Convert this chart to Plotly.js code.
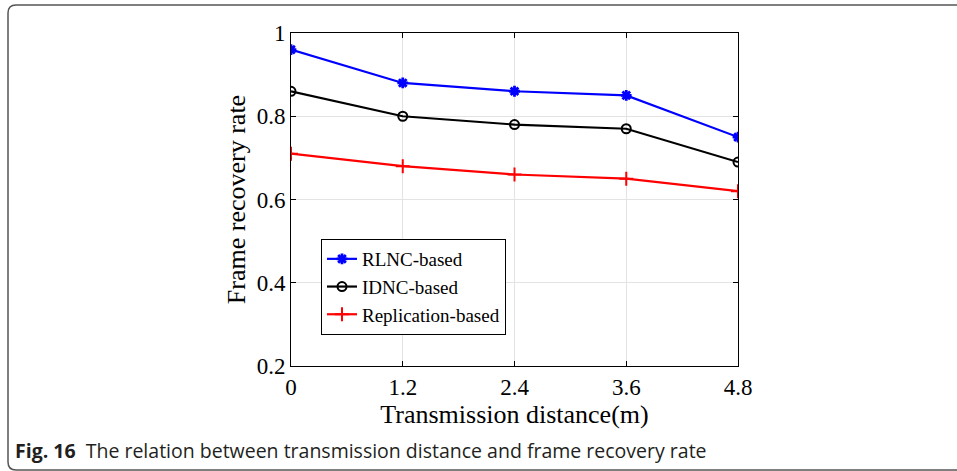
<!DOCTYPE html>
<html><head><meta charset="utf-8">
<script src="https://cdn.plot.ly/plotly-3.0.1.min.js"></script>
<style>html,body{margin:0;padding:0;background:#fff;}#plot{width:957px;height:471px;}</style>
</head><body><div id="plot"></div>
<script>
const distances = [0, 1.2, 2.4, 3.6, 4.8];
const rlnc = [0.96, 0.88, 0.86, 0.85, 0.75];
const idnc = [0.86, 0.80, 0.78, 0.77, 0.69];
const replication = [0.71, 0.68, 0.66, 0.65, 0.62];
const seriesNames = ['RLNC-based', 'IDNC-based', 'Replication-based'];
const xTicks = [0, 1.2, 2.4, 3.6, 4.8];
const yTicks = [0.2, 0.4, 0.6, 0.8, 1];
const xTickText = ['0', '1.2', '2.4', '3.6', '4.8'];
const yTickText = ['0.2', '0.4', '0.6', '0.8', '1'];

const W = 957, H = 471;
const L = 291, R = 738, T = 33, B = 366;
const px = x => (x - L) / (R - L);
const py = y => (B - y) / (B - T);

const serif = 'Liberation Serif, Times New Roman, serif';

const traces = [
  {x: distances, y: rlnc, name: seriesNames[0], mode: 'lines+markers',
   line: {color: '#0000ff', width: 2.2},
   marker: {symbol: 'asterisk-open', size: 9, color: '#0000ff', line: {color: '#0000ff', width: 2.8}}},
  {x: distances, y: idnc, name: seriesNames[1], mode: 'lines+markers',
   line: {color: '#000000', width: 2.2},
   marker: {symbol: 'circle-open', size: 9, color: '#000000', line: {color: '#000000', width: 2}}},
  {x: distances, y: replication, name: seriesNames[2], mode: 'lines+markers',
   line: {color: '#ff0000', width: 2.2},
   marker: {symbol: 'cross-thin-open', size: 10, color: '#ff0000', line: {color: '#ff0000', width: 2}}}
];

const framePath = `M ${px(957)},${py(5)} L ${px(16)},${py(5)} Q ${px(8)},${py(5)} ${px(8)},${py(13)} L ${px(8)},${py(462)} Q ${px(8)},${py(470)} ${px(16)},${py(470)} L ${px(957)},${py(470)}`;

const layout = {
  width: W, height: H,
  margin: {l: L, r: W - R, t: T, b: H - B, pad: 0},
  paper_bgcolor: '#ffffff', plot_bgcolor: '#ffffff',
  showlegend: true,
  legend: {x: px(321), y: py(239), xanchor: 'left', yanchor: 'top',
    bgcolor: '#ffffff', bordercolor: '#000000', borderwidth: 1,
    font: {family: serif, size: 19, color: '#000'}, tracegroupgap: 0, itemwidth: 30},
  xaxis: {range: [0, 4.8], tickvals: xTicks, ticktext: xTickText,
    showgrid: true, gridcolor: '#e3e3e3', gridwidth: 1,
    showline: true, linecolor: '#000', linewidth: 1, mirror: 'ticks',
    ticks: 'inside', ticklen: 5, tickcolor: '#000', zeroline: false,
    tickfont: {family: serif, size: 23, color: '#000'},
    title: {text: 'Transmission distance(m)', font: {family: serif, size: 26, color: '#000'}, standoff: 1}},
  yaxis: {range: [0.2, 1], tickvals: yTicks, ticktext: yTickText,
    showgrid: true, gridcolor: '#e3e3e3', gridwidth: 1,
    showline: true, linecolor: '#000', linewidth: 1, mirror: 'ticks',
    ticks: 'inside', ticklen: 5, tickcolor: '#000', zeroline: false,
    tickfont: {family: serif, size: 23, color: '#000'},
    title: {text: 'Frame recovery rate', font: {family: serif, size: 26, color: '#000'}, standoff: 3}},
  shapes: [
    {type: 'path', xref: 'paper', yref: 'paper', path: framePath,
     line: {color: '#555555', width: 1.5}, layer: 'below'}
  ],
  annotations: [
    {xref: 'paper', yref: 'paper', x: px(13), y: py(451), xanchor: 'left', yanchor: 'middle',
     showarrow: false, align: 'left',
     text: '<b>Fig. 16</b>  The relation between transmission distance and frame recovery rate',
     font: {family: 'Open Sans, Noto Sans, sans-serif', size: 19.5, color: '#231f20'}}
  ]
};

Plotly.newPlot('plot', traces, layout, {displayModeBar: false, staticPlot: true});
</script></body></html>
